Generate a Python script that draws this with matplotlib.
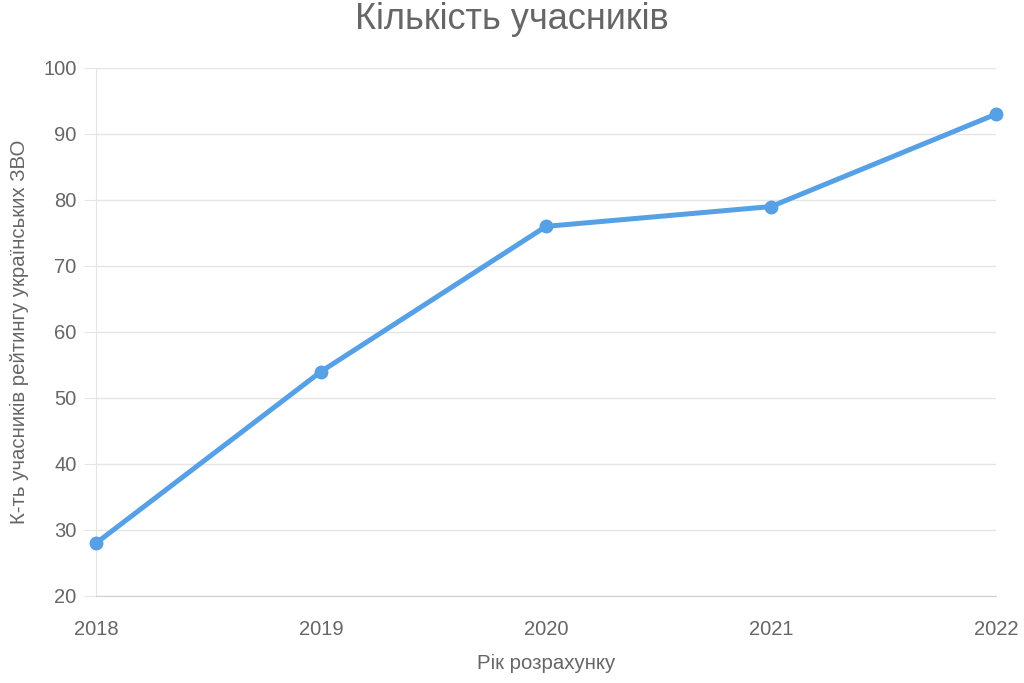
import matplotlib.pyplot as plt

years = ["2018", "2019", "2020", "2021", "2022"]
participants = [28, 54, 76, 79, 93]

plt.rcParams['font.family'] = ['Liberation Sans', 'DejaVu Sans']

text_color = '#666666'
grid_color = '#e5e5e5'

fig = plt.figure(figsize=(10.24, 6.83), dpi=100)
ax = fig.add_axes([0.09375, 0.1274, 0.8789, 0.7731])

x = range(len(years))
ax.plot(x, participants, color='#56a0e6', linewidth=3.6, marker='o',
        markersize=9, solid_capstyle='round', zorder=3, clip_on=False)

ax.set_xlim(0, len(years) - 1)
ax.set_ylim(20, 100)
ax.set_yticks(range(20, 101, 10))
ax.set_xticks(list(x))
ax.set_xticklabels(years)

# Only horizontal grid lines, like Chart.js
ax.grid(axis='y', color=grid_color, linewidth=1)
ax.set_axisbelow(True)
for side in ['top', 'right']:
    ax.spines[side].set_visible(False)
ax.spines['left'].set_color(grid_color)
ax.spines['bottom'].set_color('#d0d0d0')

ax.tick_params(axis='y', length=9, color=grid_color, labelsize=14.5,
               labelcolor=text_color, pad=5)
ax.tick_params(axis='x', length=0, labelsize=14.5, labelcolor=text_color, pad=17)

fig.suptitle("Кількість учасників", fontsize=26, color=text_color,
             x=0.5, y=0.971, va='center')
ax.set_xlabel("Рік розрахунку", fontsize=14.7, color=text_color, labelpad=11)
ax.set_ylabel("К-ть учасників рейтингу українських ЗВО", fontsize=14.7,
              color=text_color, labelpad=10)

fig.savefig("out.png", dpi=100)
